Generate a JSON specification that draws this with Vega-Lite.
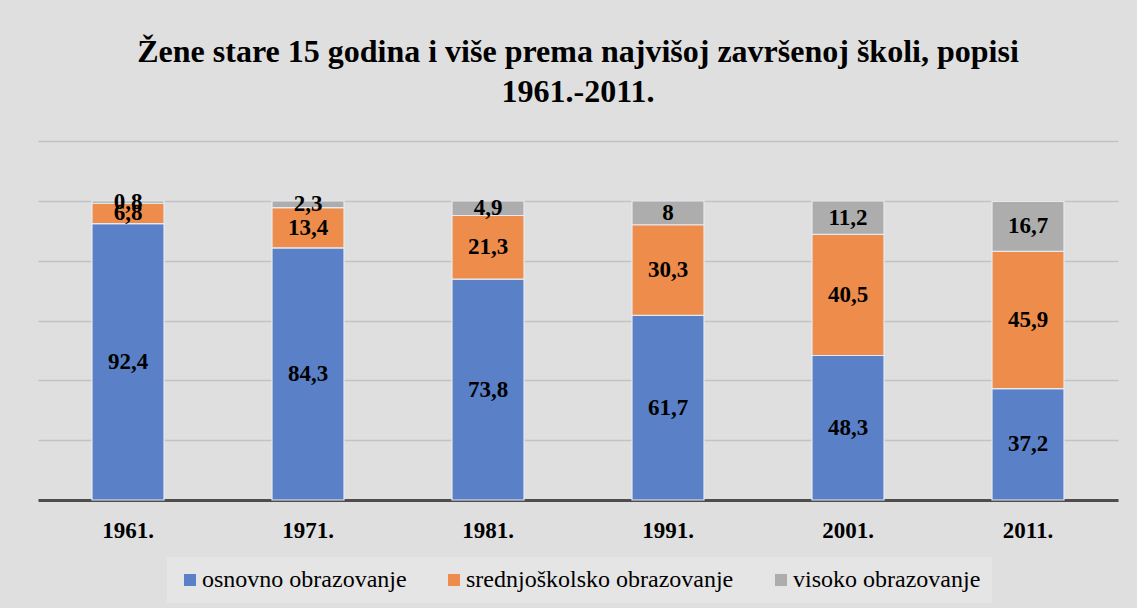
{
  "$schema": "https://vega.github.io/schema/vega-lite/v6.json",
  "width": 1080,
  "height": 359,
  "padding": {"left": 38, "right": 19, "top": 36, "bottom": 5},
  "background": "#dfdfdf",
  "title": {
    "text": ["Žene stare 15 godina i više prema najvišoj završenoj školi, popisi", "1961.-2011."],
    "font": "Liberation Serif",
    "fontSize": 32,
    "fontWeight": "bold",
    "color": "#000000",
    "lineHeight": 40,
    "anchor": "middle",
    "offset": 32
  },
  "data": {
    "values": [
      {"year": "1961.", "cat": "osnovno obrazovanje", "value": 92.4, "label": "92,4"},
      {"year": "1961.", "cat": "srednjoškolsko obrazovanje", "value": 6.8, "label": "6,8"},
      {"year": "1961.", "cat": "visoko obrazovanje", "value": 0.8, "label": "0,8"},
      {"year": "1971.", "cat": "osnovno obrazovanje", "value": 84.3, "label": "84,3"},
      {"year": "1971.", "cat": "srednjoškolsko obrazovanje", "value": 13.4, "label": "13,4"},
      {"year": "1971.", "cat": "visoko obrazovanje", "value": 2.3, "label": "2,3"},
      {"year": "1981.", "cat": "osnovno obrazovanje", "value": 73.8, "label": "73,8"},
      {"year": "1981.", "cat": "srednjoškolsko obrazovanje", "value": 21.3, "label": "21,3"},
      {"year": "1981.", "cat": "visoko obrazovanje", "value": 4.9, "label": "4,9"},
      {"year": "1991.", "cat": "osnovno obrazovanje", "value": 61.7, "label": "61,7"},
      {"year": "1991.", "cat": "srednjoškolsko obrazovanje", "value": 30.3, "label": "30,3"},
      {"year": "1991.", "cat": "visoko obrazovanje", "value": 8, "label": "8"},
      {"year": "2001.", "cat": "osnovno obrazovanje", "value": 48.3, "label": "48,3"},
      {"year": "2001.", "cat": "srednjoškolsko obrazovanje", "value": 40.5, "label": "40,5"},
      {"year": "2001.", "cat": "visoko obrazovanje", "value": 11.2, "label": "11,2"},
      {"year": "2011.", "cat": "osnovno obrazovanje", "value": 37.2, "label": "37,2"},
      {"year": "2011.", "cat": "srednjoškolsko obrazovanje", "value": 45.9, "label": "45,9"},
      {"year": "2011.", "cat": "visoko obrazovanje", "value": 16.7, "label": "16,7"}
    ]
  },
  "encoding": {
    "x": {
      "field": "year",
      "type": "nominal",
      "sort": null,
      "title": null,
      "scale": {"paddingInner": 0.6, "paddingOuter": 0.3},
      "axis": {
        "labelAngle": 0,
        "labelFont": "Liberation Serif",
        "labelFontSize": 23,
        "labelFontWeight": "bold",
        "labelColor": "#000000",
        "labelPadding": 19,
        "ticks": false,
        "domain": true,
        "domainColor": "#4d4d4d",
        "domainWidth": 3,
        "grid": false
      }
    },
    "y": {
      "field": "value",
      "type": "quantitative",
      "stack": "zero",
      "title": null,
      "scale": {"domain": [0, 120], "nice": false},
      "axis": {
        "values": [0, 20, 40, 60, 80, 100, 120],
        "labels": false,
        "ticks": false,
        "domain": false,
        "grid": true,
        "gridColor": "#c2c2c2",
        "gridWidth": 1.5
      }
    },
    "order": {"field": "cat", "sort": "ascending"}
  },
  "layer": [
    {
      "mark": {"type": "bar", "stroke": "#e6e9f0", "strokeWidth": 1.2},
      "encoding": {
        "color": {
          "field": "cat",
          "type": "nominal",
          "title": null,
          "scale": {
            "domain": ["osnovno obrazovanje", "srednjoškolsko obrazovanje", "visoko obrazovanje"],
            "range": ["#5a80c8", "#ee8c4b", "#adadad"]
          },
          "legend": {
            "orient": "none",
            "legendX": 129,
            "legendY": 416,
            "direction": "horizontal",
            "symbolType": "square",
            "symbolSize": 144,
            "symbolStrokeWidth": 0,
            "labelFont": "Liberation Serif",
            "labelFontSize": 24,
            "labelColor": "#000000",
            "labelOffset": 0,
            "columnPadding": 35,
            "fillColor": "#e5e5e5",
            "padding": 11,
            "labelLimit": 400
          }
        }
      }
    },
    {
      "mark": {
        "type": "text",
        "font": "Liberation Serif",
        "fontSize": 23,
        "fontWeight": "bold",
        "color": "#000000",
        "baseline": "middle"
      },
      "encoding": {
        "y": {"field": "value", "type": "quantitative", "stack": "zero", "bandPosition": 0.5},
        "text": {"field": "label"},
        "detail": {"field": "cat"}
      }
    }
  ],
  "config": {
    "view": {"stroke": null}
  }
}
